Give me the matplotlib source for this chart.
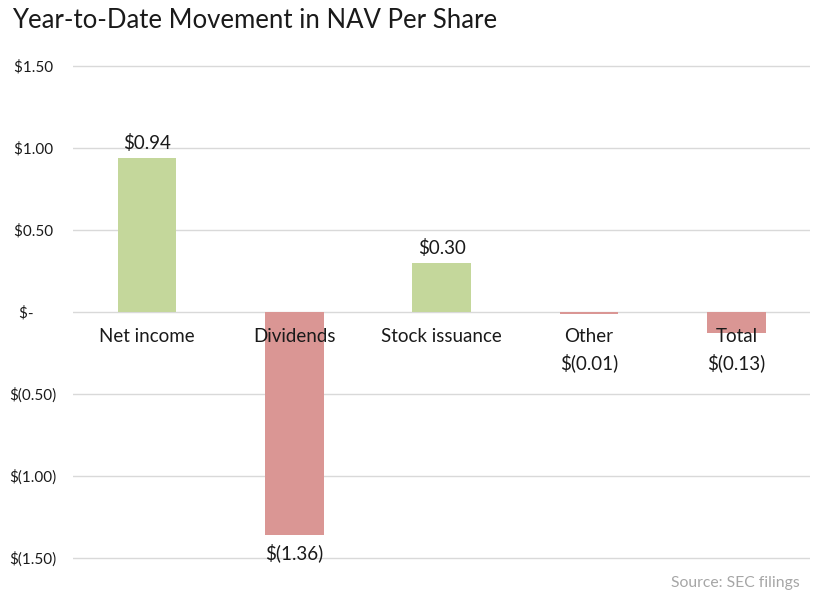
import matplotlib
matplotlib.use("Agg")
import matplotlib.pyplot as plt
from matplotlib.ticker import FixedLocator

categories = ["Net income", "Dividends", "Stock issuance", "Other", "Total"]
values = [0.94, -1.36, 0.30, -0.01, -0.13]
value_labels = ["$0.94", "$(1.36)", "$0.30", "$(0.01)", "$(0.13)"]
yticks = [1.5, 1.0, 0.5, 0.0, -0.5, -1.0, -1.5]
ytick_labels = ["$1.50 ", "$1.00 ", "$0.50 ", "$-      ", "$(0.50)", "$(1.00)", "$(1.50)"]

GREEN = "#C4D79B"
RED = "#DA9694"
GRID = "#D9D9D9"
TEXT = "#1a1a1a"
FAM = ["Lato", "DejaVu Sans"]

fig = plt.figure(figsize=(8.24, 6.04), dpi=100)
ax = fig.add_axes([0.089, 0.0735, 0.894, 0.8199])

x = list(range(len(categories)))
colors = [GREEN if v >= 0 else RED for v in values]
ax.bar(x, values, width=0.4, color=colors, zorder=3)

ax.set_xlim(-0.5, len(categories) - 0.5)
ax.set_ylim(-1.51, 1.51)
ax.yaxis.set_major_locator(FixedLocator(yticks))
ax.set_yticklabels(ytick_labels, family=FAM, fontsize=11, color=TEXT)
ax.tick_params(axis="y", length=0, pad=12)
ax.set_xticks([])
for s in ax.spines.values():
    s.set_visible(False)
ax.grid(axis="y", color=GRID, linewidth=1, zorder=0)

# category labels just below zero line
for xi, c in zip(x, categories):
    ax.annotate(c, (xi, 0), xytext=(0, -18), textcoords="offset points",
                ha="center", va="center", fontsize=13.5, color=TEXT, family=FAM)

# value labels
for xi, v, lab in zip(x, values, value_labels):
    if v >= 0:
        ax.annotate(lab, (xi, v), xytext=(0, 11), textcoords="offset points",
                    ha="center", va="center", fontsize=13.5, color=TEXT, family=FAM)
    else:
        yv = min(v, -0.2)
        ax.annotate(lab, (xi, yv), xytext=(0, -13), textcoords="offset points",
                    ha="center", va="center", fontsize=13.5, color=TEXT, family=FAM)

fig.text(12 / 824, 1 - 21 / 604, "Year-to-Date Movement in NAV Per Share",
         ha="left", va="center", fontsize=18.5, color=TEXT, family=FAM)
fig.text(800 / 824, 1 - 583 / 604, "Source: SEC filings", ha="right", va="center",
         fontsize=11.3, color="#A6A6A6", family=FAM)

fig.savefig("out.png", dpi=100)
